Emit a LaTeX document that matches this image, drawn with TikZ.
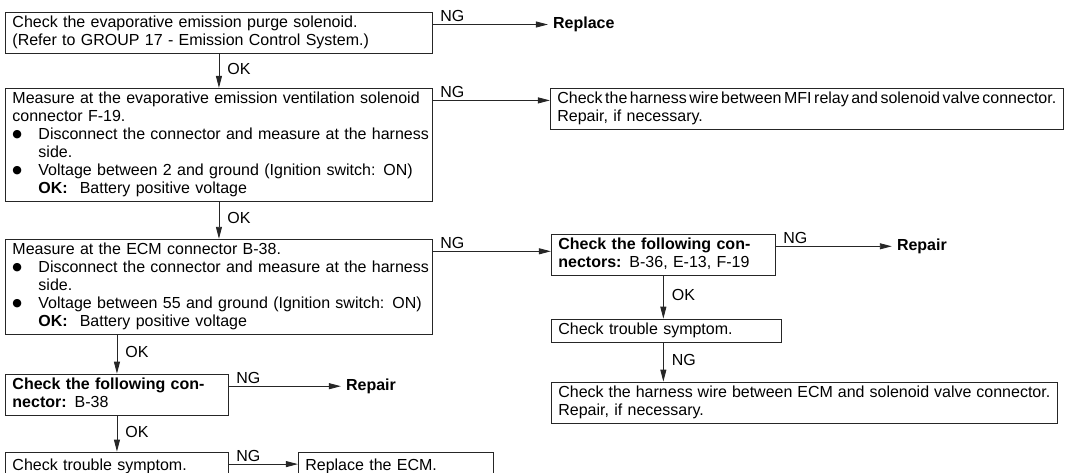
\documentclass[tikz,border=0pt]{standalone}
\usepackage{fontspec}
\setmainfont{Liberation Sans}
\newfontfamily\symfont{DejaVu Sans}
\usetikzlibrary{arrows.meta,positioning}
% bullet, hanging indent and a stretched (justified) line
\newcommand{\bul}{\makebox[26pt][l]{\raisebox{1.5pt}{\symfont\fontsize{11}{18}\selectfont ●}}}
\newcommand{\ind}{\hspace*{26pt}}
\newcommand{\full}[1]{\makebox[\linewidth][s]{#1}}

\begin{document}
\begin{tikzpicture}[x=1pt,y=1pt,every node/.style={font=\fontsize{16}{18}\selectfont},
  box/.style={draw=black!85,line width=0.9pt,inner xsep=7pt,inner ysep=2.5pt,align=left,
    execute at begin node=\strut,execute at end node=\strut},
  goal/.style={font=\fontsize{16}{18}\selectfont\bfseries,inner xsep=5pt},
  arr/.style={-{Triangle[length=12pt,width=6pt]},line width=0.9pt,draw=black!85},
  ng/.style={pos=0,anchor=south west,inner sep=2pt,xshift=5pt},
  ok/.style={pos=0.45,anchor=west,inner xsep=8pt}]
\useasboundingbox (0,0) rectangle (1068,-472);
\clip (0,0) rectangle (1068,-472);

% left column
\node[box,text width=413pt,anchor=north west] (pur) at (5,-12)
  {Check the evaporative emission purge solenoid.\\(Refer to GROUP 17 - Emission Control System.)};
\node[box,text width=413pt,below=34pt of pur.south west,anchor=north west] (vnt)
  {\full{Measure at the evaporative emission ventilation solenoid}\\
   connector F-19.\\
   \full{\bul Disconnect the connector and measure at the harness}\\
   \ind side.\\
   \full{\bul Voltage between 2 and ground (Ignition switch: ON)}\\
   \ind\textbf{OK:}\hspace{12pt}Battery positive voltage};
\node[box,text width=413pt,below=37pt of vnt.south west,anchor=north west] (ecm)
  {Measure at the ECM connector B-38.\\
   \full{\bul Disconnect the connector and measure at the harness}\\
   \ind side.\\
   \full{\bul Voltage between 55 and ground (Ignition switch: ON)}\\
   \ind\textbf{OK:}\hspace{12pt}Battery positive voltage};
\node[box,text width=209pt,below=39pt of ecm.south west,anchor=north west] (cb)
  {\full{\textbf{Check the following con-}}\\\textbf{nector:} B-38};
\node[box,text width=209pt,minimum height=30pt,below=36pt of cb.south west,anchor=north west] (ts)
  {Check trouble symptom.};
\node[box,text width=181pt,minimum height=30pt,right=69pt of ts.north east,anchor=north west] (rcm)
  {Replace the ECM.};

% right column
\node[box,text width=499pt,right=117pt of vnt.north east,anchor=north west] (mfi)
  {{\spaceskip=0.12em plus 0.3em\full{Check the harness wire between MFI relay and solenoid valve connector.}}\\
   Repair, if necessary.};
\node[box,text width=210pt,right=118pt of ecm.north east,anchor=north west,yshift=5pt] (cons)
  {\full{\textbf{Check the following con-}}\\\textbf{nectors:} B-36, E-13, F-19};
\node[box,text width=216pt,below=43pt of cons.south west,anchor=north west] (ts2)
  {Check trouble symptom.};
\node[box,text width=492pt,below=39pt of ts2.south west,anchor=north west] (hrn)
  {{\spaceskip=0.2em plus 0.3em\full{Check the harness wire between ECM and solenoid valve connector.}}\\
   Repair, if necessary.};

% NG exits
\coordinate (ngp) at ([yshift=-12.5pt]pur.north east);
\coordinate (ngv) at ([yshift=-12.5pt]vnt.north east);
\coordinate (nge) at ([yshift=-12.5pt]ecm.north east);
\coordinate (ngb) at ([yshift=-12.5pt]cb.north east);
\coordinate (ngt) at ([yshift=-12.5pt]ts.north east);
\coordinate (ngc) at ([yshift=-12.5pt]cons.north east);
\node[goal,right=115pt of ngp] (rpl) {Replace};
\node[goal,right=112pt of ngb] (rep1) {Repair};
\node[goal,right=116pt of ngc] (rep2) {Repair};

\draw[arr] (ngp) -- node[ng]{NG} (rpl);
\draw[arr] (ngv) -- node[ng]{NG} (ngv -| mfi.west);
\draw[arr] (nge) -- node[ng]{NG} (nge -| cons.west);
\draw[arr] (ngb) -- node[ng]{NG} (rep1);
\draw[arr] (ngt) -- node[ng]{NG} (ngt -| rcm.west);
\draw[arr] (ngc) -- node[ng]{NG} (rep2);

% OK downwards
\draw[arr] (pur) -- node[ok]{OK} (vnt);
\draw[arr] (vnt) -- node[ok]{OK} (ecm);
\draw[arr] (ecm.south -| cb) -- node[ok]{OK} (cb);
\draw[arr] (cb) -- node[ok]{OK} (ts);
\draw[arr] (cons) -- node[ok]{OK} (cons |- ts2.north);
\draw[arr] (ts2.south -| cons) -- node[ok]{NG} (hrn.north -| cons);
\end{tikzpicture}
\end{document}
